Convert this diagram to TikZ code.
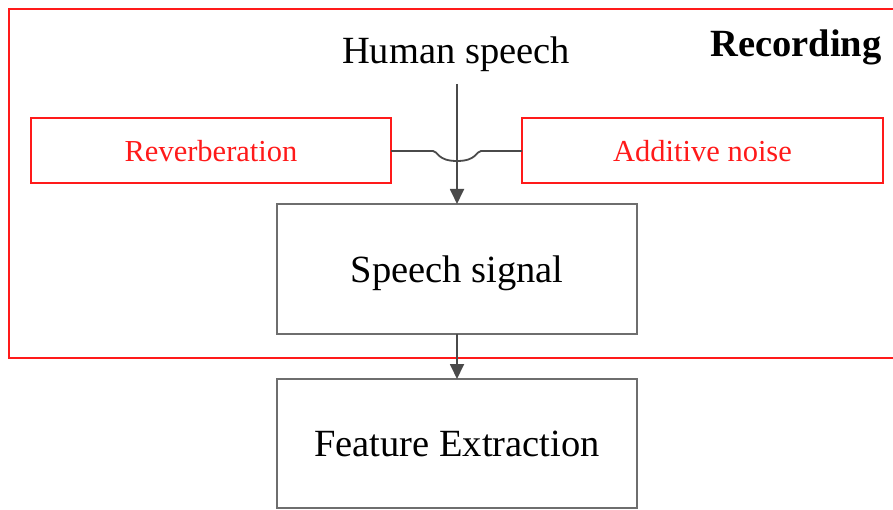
\documentclass[tikz,border=0pt]{standalone}
\usepackage{fontspec}
\setmainfont{Liberation Serif}
\usetikzlibrary{arrows.meta}
\definecolor{framered}{HTML}{FF1A1A}
\definecolor{linegray}{HTML}{4A4A4A}
\definecolor{boxgray}{HTML}{6E6E6E}
\tikzset{
  blockbox/.style={draw=boxgray, line width=1.8pt, inner sep=0pt, outer sep=0pt,
    font=\fontsize{38.5}{40}\selectfont, text depth=0pt},
  sourcebox/.style={draw=framered, line width=1.5pt, inner sep=0pt, outer sep=0pt,
    text=framered, font=\fontsize{30.5}{32}\selectfont, text depth=0pt},
  conn/.style={draw=linegray, line width=1.8pt},
  flow/.style={conn, -{Triangle[length=15pt, width=14pt]}},
  bigtext/.style={font=\fontsize{38.5}{40}\selectfont, inner sep=0pt, anchor=base}
}
\begin{document}
\begin{tikzpicture}[x=1pt, y=-1pt]
  \useasboundingbox (0,0) rectangle (893,510);
  \clip (0,0) rectangle (893,510);
  % recording environment frame (runs past the right edge)
  \draw[framered, line width=1.5pt] (905,9) -- (9,9) -- (9,358) -- (905,358);
  \node[bigtext, font=\fontsize{38.5}{40}\selectfont\bfseries] (rec) at (796,57) {Recording};
  \node[bigtext] (human) at (456,64) {Human speech};
  \node[sourcebox, minimum width=360pt, minimum height=65pt] (reverb) at (211,150.5) {Reverberation};
  \node[sourcebox, minimum width=361pt, minimum height=65pt] (noise) at (702.5,150.5) {Additive noise};
  \node[blockbox, minimum width=360pt, minimum height=130pt] (signal) at (457,269) {Speech signal};
  \node[blockbox, minimum width=360pt, minimum height=129pt] (feature) at (457,443.5) {Feature Extraction};
  % side inputs joined by a line that dips under the speech path
  \coordinate (hopL) at (433,151);
  \coordinate (hopR) at (481,151);
  \draw[conn] (reverb.east |- hopL) -- (hopL)
     .. controls (438,151) and (437,161) .. (457,161)
     .. controls (477,161) and (476,151) .. (hopR) -- (noise.west |- hopR);
  \coordinate (src) at (457,84);
  \draw[flow] (src) -- (signal.north);
  \draw[flow] (signal.south) -- (feature.north);
\end{tikzpicture}
\end{document}
